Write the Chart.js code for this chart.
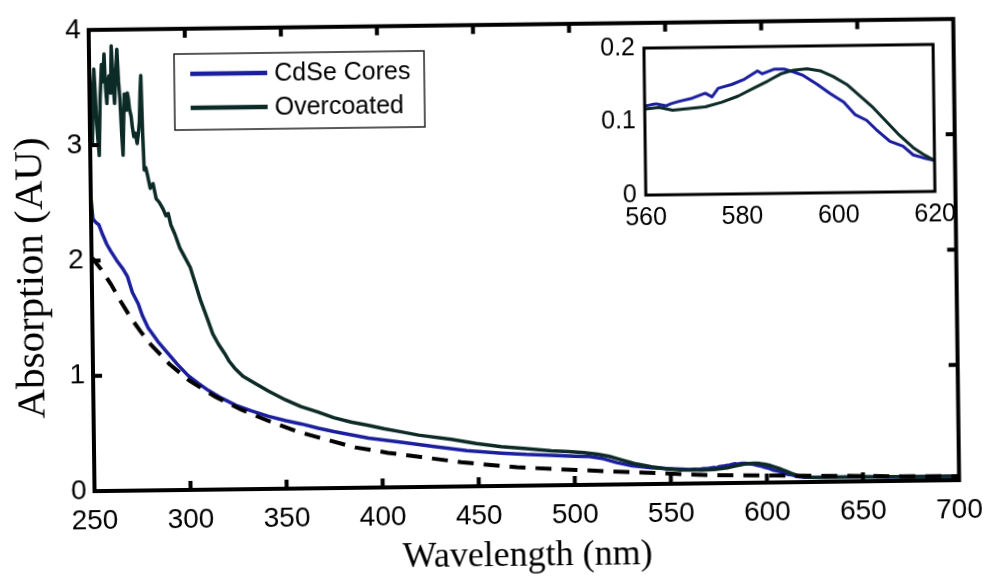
<!DOCTYPE html>
<html lang="en">
<head>
  <meta charset="UTF-8" />
  <title>Absorption spectra</title>
  <script src="https://cdn.jsdelivr.net/npm/chart.js"></script>
  <style>
    body {
      margin: 0;
      background: #fff;
      overflow: hidden;
    }

    #figure {
      position: relative;
      width: 993px;
      height: 579px;
      transform: rotate(-0.73deg);
      transform-origin: 50% 50%;
    }

    #main {
      position: absolute;
      left: 0;
      top: 0;
    }

    #inset {
      position: absolute;
      left: 597px;
      top: 26px;
    }
  </style>
</head>
<body>
  <div id="figure">
    <canvas id="main" width="993" height="579"></canvas>
    <canvas id="inset" width="368" height="211"></canvas>
  </div>

  <script>
    // CdSe cores, 250-556 nm (the 560-620 part is shared with the inset)
    const coresNm = [250, 251, 252.5, 254, 256, 258, 260, 263, 266, 268.5, 271, 274, 276, 279, 284, 289, 294, 299.6,
      305, 310, 317, 324, 332, 341, 350, 358, 367, 375, 384, 393, 410, 427, 444, 462, 475, 488, 500, 508, 515,
      522, 530, 540, 550, 556];
    const coresAbs = [2.56, 2.36, 2.33, 2.31, 2.22, 2.14, 2.08, 2.00, 1.93, 1.86, 1.72, 1.62, 1.52, 1.41, 1.29, 1.19, 1.09, 0.99,
      0.92, 0.86, 0.79, 0.73, 0.68, 0.63, 0.59, 0.56, 0.52, 0.49, 0.46, 0.43, 0.39, 0.35, 0.31, 0.285, 0.27, 0.26, 0.25, 0.245, 0.225,
      0.19, 0.16, 0.14, 0.13, 0.125];

    // overcoated particles, 250-555 nm (noisy below 280 nm)
    const overNm = [250, 250.6, 251.2, 251.8, 252.4, 253, 253.5, 254.1, 254.7, 255.5, 256.4, 257.1, 257.8, 258.4, 259,
      259.6, 260.3, 261, 261.6, 262.3, 263, 263.7, 264.5, 265.2, 265.8, 266.5, 267.1, 267.6, 268.1, 268.7, 269.2,
      269.7, 270.2, 270.8, 271.5, 272.1, 272.8, 273.6, 274.5, 275.2, 275.8, 276.3, 276.8, 277.4, 278, 278.8, 279.7,
      281, 282.5, 284, 285.5, 287.5, 289, 290.2, 291.5, 293.5,
      296, 298.5, 301.3, 304, 306.5, 309.5, 312.6, 315.5, 318.6, 321, 323.8, 328, 334, 341, 350, 358, 367, 375, 384,
      393, 401, 410, 419, 436, 449, 462, 475, 488, 497, 505, 512, 518, 523, 531, 540, 548, 555];
    const overAbs = [3.71, 3.40, 3.01, 3.35, 3.66, 3.45, 3.20, 3.05, 2.91, 3.40, 3.70, 3.55, 3.79, 3.50, 3.36,
      3.55, 3.60, 3.45, 3.86, 3.55, 3.36, 3.60, 3.83, 3.55, 3.40, 3.10, 2.91, 3.20, 3.44, 3.35, 3.30,
      3.45, 3.40, 3.30, 3.25, 3.15, 3.07, 3.10, 3.01, 3.10, 3.20, 3.45, 3.60, 3.10, 2.78, 2.80, 2.73,
      2.62, 2.66, 2.53, 2.50, 2.44, 2.38, 2.40, 2.30, 2.22,
      2.10, 2.02, 1.93, 1.78, 1.64, 1.50, 1.35, 1.26, 1.18, 1.11, 1.05, 0.98, 0.92, 0.85, 0.77, 0.71, 0.66, 0.61, 0.57,
      0.54, 0.51, 0.48, 0.45, 0.41, 0.37, 0.34, 0.32, 0.30, 0.29, 0.28, 0.265, 0.245, 0.22, 0.18, 0.15, 0.13, 0.12];

    // band-edge region, 560-620 nm
    const insetCoresNm = [560, 561.5, 562.4, 564.4, 565.5, 567.2, 569.9, 572.6, 574, 575.3, 578.1, 580.8, 583.5, 584.5,
      586.9, 589, 591, 593, 595.8, 598.5, 601.3, 603.6, 606, 608, 610.8, 613.5, 615.6, 617.6, 620];
    const insetCoresAbs = [0.121, 0.123, 0.124, 0.121, 0.124, 0.127, 0.131, 0.1375, 0.1325, 0.144, 0.149, 0.156, 0.167, 0.163,
      0.169, 0.169, 0.165, 0.160, 0.148, 0.135, 0.123, 0.106, 0.098, 0.085, 0.069, 0.062, 0.050, 0.046, 0.042];
    const insetOverNm = [560, 563, 565.8, 569.2, 572.6, 576, 579.4, 582.8, 585.6, 588.3, 591, 593.8, 596.5, 599.2,
      602, 604.7, 607.4, 610.1, 612.8, 615.6, 617.6, 620];
    const insetOverAbs = [0.117, 0.119, 0.115, 0.117, 0.119, 0.125, 0.133, 0.144, 0.153, 0.1625, 0.1675, 0.169, 0.166, 0.158,
      0.147, 0.131, 0.115, 0.096, 0.077, 0.060, 0.051, 0.042];

    // flat tail past the band edge
    const tailNm = [630, 650, 675, 700];
    const tailAbs = [0.04, 0.04, 0.035, 0.035];

    // scattering background (dashed)
    const backNm = [250, 255, 260, 265, 270, 275, 280, 285, 290, 295, 300, 313, 327, 341, 355, 369, 386, 403, 420,
      441, 458, 470, 501, 536, 570, 604, 638, 670, 700];
    const backAbs = [2.03, 1.92, 1.79, 1.64, 1.50, 1.38, 1.27, 1.18, 1.09, 1.02, 0.95, 0.81, 0.69, 0.59, 0.50, 0.43, 0.35, 0.30, 0.26,
      0.21, 0.18, 0.16, 0.13, 0.10, 0.07, 0.06, 0.05, 0.04, 0.035];

    const seriesLabels = ['CdSe Cores', 'Overcoated'];
    const seriesColors = ['#1b1f9e', '#0c2a26'];

    const sans = "'Liberation Sans', Arial, Helvetica, sans-serif";
    const serif = "'Liberation Serif', 'Times New Roman', serif";

    const pts = (xs, ys) => xs.map((x, i) => ({ x: x, y: ys[i] }));

    // box round the plot area plus inward tick marks on all four sides
    const frameTicks = {
      id: 'frameTicks',
      afterDatasetsDraw(chart, args, opts) {
        const { ctx, chartArea: a, scales: { x, y } } = chart;
        ctx.save();
        ctx.strokeStyle = '#000';
        ctx.lineWidth = opts.width;
        ctx.strokeRect(a.left, a.top, a.right - a.left, a.bottom - a.top);
        if (opts.tickLen) {
          ctx.lineWidth = opts.tickWidth;
          ctx.beginPath();
          x.ticks.forEach(t => {
            if (t.value <= x.min || t.value >= x.max) return;
            const px = x.getPixelForValue(t.value);
            ctx.moveTo(px, a.bottom); ctx.lineTo(px, a.bottom - opts.tickLen);
            ctx.moveTo(px, a.top); ctx.lineTo(px, a.top + opts.tickLen);
          });
          y.ticks.forEach(t => {
            if (t.value <= y.min || t.value >= y.max) return;
            const py = y.getPixelForValue(t.value);
            ctx.moveTo(a.left, py); ctx.lineTo(a.left + opts.tickLen, py);
            ctx.moveTo(a.right, py); ctx.lineTo(a.right - opts.tickLen, py);
          });
          ctx.stroke();
        }
        ctx.restore();
      }
    };

    // y title and the boxed legend inside the plot
    const annotations = {
      id: 'annotations',
      afterDraw(chart, args, opts) {
        const { ctx } = chart;
        ctx.save();
        ctx.fillStyle = '#000';
        ctx.font = '41px ' + serif;
        ctx.textAlign = 'center';
        ctx.textBaseline = 'alphabetic';
        ctx.translate(43, 272);
        ctx.rotate(-Math.PI / 2);
        ctx.fillText('Absorption (AU)', 0, 0);
        ctx.restore();

        const lg = opts.legend;
        ctx.save();
        ctx.fillStyle = '#fff';
        ctx.fillRect(lg.left, lg.top, lg.width, lg.height);
        ctx.strokeStyle = '#222';
        ctx.lineWidth = 1.5;
        ctx.strokeRect(lg.left, lg.top, lg.width, lg.height);
        ctx.font = '25px ' + sans;
        ctx.textBaseline = 'middle';
        ctx.textAlign = 'left';
        seriesLabels.forEach((label, i) => {
          const yy = lg.top + 20 + i * 34;
          ctx.strokeStyle = seriesColors[i];
          ctx.lineWidth = 4.5;
          ctx.beginPath();
          ctx.moveTo(lg.left + 16, yy);
          ctx.lineTo(lg.left + 93, yy);
          ctx.stroke();
          ctx.fillStyle = '#000';
          ctx.fillText(label, lg.left + 100, yy + 1);
        });
        ctx.restore();
      }
    };

    new Chart(document.getElementById('main'), {
      type: 'line',
      data: {
        datasets: [
          {
            label: 'Background',
            data: pts(backNm, backAbs),
            borderColor: '#000',
            borderWidth: 4,
            borderDash: [16, 10],
            order: 0
          },
          {
            label: seriesLabels[1],
            data: pts(overNm.concat(insetOverNm, tailNm), overAbs.concat(insetOverAbs, tailAbs)),
            borderColor: seriesColors[1],
            borderWidth: 3.5,
            order: 1
          },
          {
            label: seriesLabels[0],
            data: pts(coresNm.concat(insetCoresNm, tailNm), coresAbs.concat(insetCoresAbs, tailAbs)),
            borderColor: seriesColors[0],
            borderWidth: 3.5,
            order: 2
          }
        ]
      },
      options: {
        responsive: false,
        animation: false,
        layout: { padding: { top: 20, right: 32, left: 0, bottom: 0 } },
        elements: { point: { radius: 0 }, line: { tension: 0, borderJoinStyle: 'round' } },
        scales: {
          x: {
            type: 'linear',
            min: 250,
            max: 700,
            afterFit: s => { s.height = 93; },
            grid: { display: false, drawTicks: false },
            border: { display: false },
            ticks: { stepSize: 50, padding: 13, color: '#000', maxRotation: 0, autoSkip: false, font: { family: sans, size: 28 } },
            title: { display: true, text: 'Wavelength (nm)', color: '#000', padding: { top: 0, bottom: 1 }, font: { family: serif, size: 36 } }
          },
          y: {
            min: 0,
            max: 4,
            afterFit: s => { s.width = 92; },
            grid: { display: false, drawTicks: false },
            border: { display: false },
            ticks: { stepSize: 1, padding: 8, color: '#000', font: { family: sans, size: 28 } }
          }
        },
        plugins: {
          legend: { display: false },
          tooltip: { enabled: false },
          frameTicks: { width: 4, tickLen: 9, tickWidth: 4 },
          annotations: { legend: { left: 177, top: 50, width: 250, height: 76 } }
        }
      },
      plugins: [frameTicks, annotations]
    });

    new Chart(document.getElementById('inset'), {
      type: 'line',
      data: {
        datasets: [
          {
            label: seriesLabels[1],
            data: pts(insetOverNm, insetOverAbs),
            borderColor: seriesColors[1],
            borderWidth: 3
          },
          {
            label: seriesLabels[0],
            data: pts(insetCoresNm, insetCoresAbs),
            borderColor: seriesColors[0],
            borderWidth: 3
          }
        ]
      },
      options: {
        responsive: false,
        animation: false,
        layout: { padding: { top: 10, right: 25, left: 0, bottom: 0 } },
        elements: { point: { radius: 0 }, line: { tension: 0, borderJoinStyle: 'round' } },
        scales: {
          x: {
            type: 'linear',
            min: 560,
            max: 620,
            afterFit: s => { s.height = 40; },
            grid: { display: false, drawTicks: false },
            border: { display: false },
            ticks: { stepSize: 20, padding: 8, color: '#000', maxRotation: 0, autoSkip: false, font: { family: sans, size: 25 } }
          },
          y: {
            min: 0,
            max: 0.2,
            afterFit: s => { s.width = 50; },
            grid: { display: false, drawTicks: false },
            border: { display: false },
            ticks: { stepSize: 0.1, padding: 9, color: '#000', font: { family: sans, size: 25 } }
          }
        },
        plugins: {
          legend: { display: false },
          tooltip: { enabled: false },
          frameTicks: { width: 3, tickLen: 0 }
        }
      },
      plugins: [frameTicks]
    });
  </script>
</body>
</html>
